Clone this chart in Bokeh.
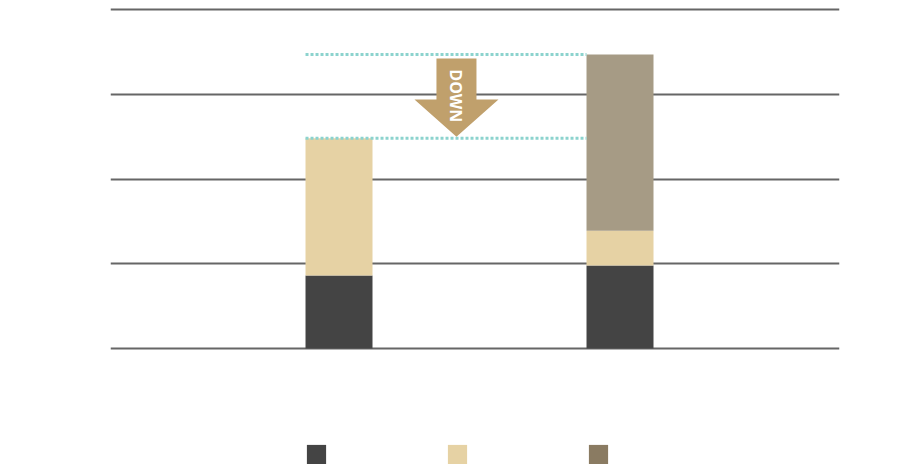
import numpy as np
from bokeh.plotting import figure
from bokeh.models import Range1d, FixedTicker, Legend, LegendItem, ColumnDataSource
from bokeh.core.properties import value
from bokeh.transform import stack
from bokeh.embed import file_html
from bokeh.resources import INLINE

# ---- data ----
categories = ["Before", "After"]
series_names = ["Series 1", "Series 2", "Series 3"]
dark_vals = [86, 98]
beige_vals = [162, 41]
taupe_vals = [0, 208]
grid_ticks = [0, 100, 200, 300, 400]
arrow_label = "DOWN"

# ---- styles ----
c_dark = "#444444"
c_beige = "#e6d2a4"
c_taupe = "#a69b85"
c_taupe_legend = "#8a7b62"
c_arrow = "#c0a06c"
c_teal = "#8cd3ce"
c_grid = "#666666"

xpos = np.arange(len(categories)) + 1.0
bar_w = 0.2384

# frame: x 110..839, y(400)=9, y(0)=348, frame extends down to the legend row
px_per_unit_y = (348 - 9) / 400.0
y_lo = -(464 - 348) / px_per_unit_y
y_hi = 400 + 5 / px_per_unit_y

p = figure(width=905, height=464, output_backend="svg", toolbar_location=None,
           x_range=Range1d(0.1868, 0.1868 + 729 / 281), y_range=Range1d(y_lo, y_hi),
           min_border_left=110, min_border_right=905 - 839, min_border_top=4,
           min_border_bottom=0)
p.outline_line_color = None
p.xgrid.visible = False
p.yaxis.ticker = FixedTicker(ticks=grid_ticks)
p.ygrid.ticker = FixedTicker(ticks=grid_ticks)
p.ygrid.grid_line_color = c_grid
p.ygrid.grid_line_width = 2
p.xaxis.visible = False
p.yaxis.visible = False
p.background_fill_color = None
p.border_fill_color = None

src = ColumnDataSource(dict(x=xpos, dark=dark_vals, beige=beige_vals, taupe=taupe_vals))

# legend-coloured third series (not drawn; used only for its legend swatch)
r3 = p.vbar(x="x", width=bar_w, bottom=stack("dark", "beige"),
            top=stack("dark", "beige", "taupe"), source=src,
            fill_color=c_taupe_legend, line_color=None, visible=False)

bars = p.vbar_stack(["dark", "beige", "taupe"], x="x", width=bar_w, source=src,
                    color=[c_dark, c_beige, c_taupe], line_color=None)

totals = np.array(dark_vals) + np.array(beige_vals) + np.array(taupe_vals)

# dotted reference lines from first bar's left edge to second bar's left edge
x0 = xpos[0] - bar_w / 2
x1 = xpos[1] - bar_w / 2
p.segment(x0=[x0, x0], y0=list(totals), x1=[x1, x1], y1=list(totals),
          line_color=c_teal, line_width=3, line_dash="3 2")

# arrow
ax = 1.418
sw = 0.0712
hw = 0.1495
top = totals[1] - 4.7
tip = totals[0] + 2
neck = tip + 43.7
p.patch([ax - sw, ax + sw, ax + sw, ax + hw, ax, ax - hw, ax - sw],
        [top, top, neck, neck, tip, neck, neck],
        fill_color=c_arrow, line_color=None)
p.text(x=[ax - 0.003], y=[(top + tip) / 2 + 2], text=[arrow_label], angle=-np.pi / 2,
       text_color="white", text_font=value("Open Sans"), text_font_style="bold",
       text_font_size="16px", text_align="center", text_baseline="middle")

legend = Legend(items=[LegendItem(label=" ", renderers=[r]) for r in (bars[0], bars[1], r3)],
                orientation="horizontal", location=(194, -2), click_policy="none",
                inactive_fill_alpha=0,
                glyph_width=24, glyph_height=24, label_width=0, label_standoff=0,
                label_height=24, spacing=117, padding=0, margin=0,
                border_line_color=None, background_fill_alpha=0)
p.add_layout(legend, "center")

open("out.html", "w").write(file_html(p, INLINE))
